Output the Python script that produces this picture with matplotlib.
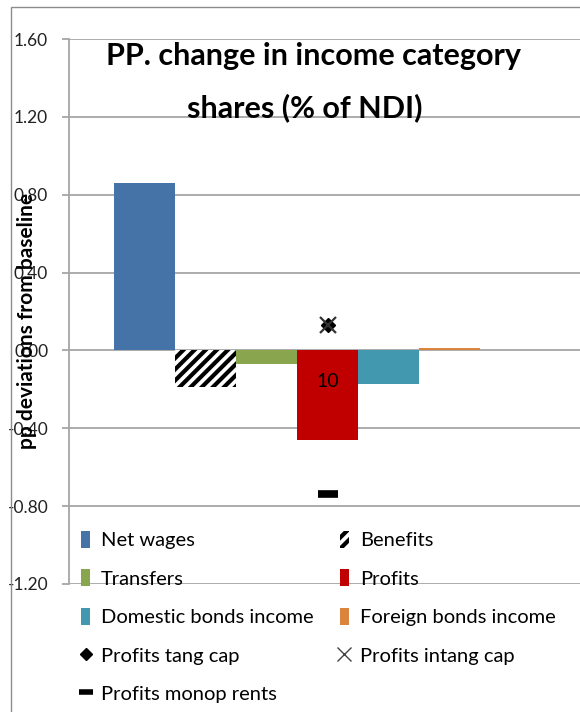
import numpy as np
import matplotlib
matplotlib.use("Agg")
from matplotlib import pyplot as plt
from matplotlib.lines import Line2D
from matplotlib.patches import Patch, Rectangle

plt.rcParams['font.family'] = ['Lato', 'DejaVu Sans']
plt.rcParams['hatch.linewidth'] = 3.0

# bar series (one cluster)
series = ['Net wages', 'Benefits', 'Transfers', 'Profits',
          'Domestic bonds income', 'Foreign bonds income']
values = [0.862, -0.19, -0.068, -0.46, -0.17, 0.012]
colors = ['#4572A7', 'white', '#89A54E', '#C00000', '#4198AF', '#DB843D']

# point series, drawn over the Profits bar
point_names = ['Profits tang cap', 'Profits intang cap', 'Profits monop rents']
point_values = [0.13, 0.13, -0.74]

profits_label = '10'
label_y = -0.16

yticks = [-1.2, -0.8, -0.4, 0.0, 0.4, 0.8, 1.2, 1.6]

W, H = 580, 712
fig = plt.figure(figsize=(W / 100, H / 100), dpi=100)
ax = fig.add_axes([69 / W, (H - 584) / H, 1 - 69 / W, 545 / H])

x = np.arange(len(series))
bars = ax.bar(x, values, width=1.0, color=colors, edgecolor='none', zorder=2)
bars[1].set_hatch('///')
bars[1].set_edgecolor('black')
bars[1].set_linewidth(0)

px = x[series.index('Profits')]
ax.plot(px, point_values[0], marker='D', color='black', ms=7, ls='none', zorder=4)
ax.plot(px, point_values[1], marker='x', color='#333333', ms=11, mew=1.6, ls='none', zorder=5)
ax.plot(px, point_values[2], marker='_', color='black', ms=14, mew=5.5, ls='none', zorder=4)
ax.text(px, label_y, profits_label, ha='center', va='center', fontsize=14, zorder=6)

ax.set_xlim(-1.238, 7.139)
ax.set_ylim(-1.2, 1.6)
ax.set_yticks(yticks)
ax.set_yticklabels(['%.2f' % v for v in yticks])
ax.set_xticks([])
ax.yaxis.grid(True, color='#a6a6a6', lw=1.3, zorder=0)
ax.set_axisbelow(True)
for s in ['top', 'right', 'bottom']:
    ax.spines[s].set_visible(False)
ax.spines['left'].set_color('#a6a6a6')
ax.spines['left'].set_linewidth(1.3)
ax.tick_params(axis='y', colors='#a6a6a6', length=5, width=1.3,
               labelsize=12.5, labelcolor='#222222', pad=10)
ax.patch.set_alpha(0)

fig.text(27 / W, 1 - 321 / H, 'pp deviations from baseline', rotation=90,
         ha='center', va='center', fontsize=15, fontweight='bold')

fig.text(314 / W, 1 - 65 / H, 'PP. change in income category',
         ha='center', va='baseline', fontsize=22, fontweight='bold')
fig.text(305 / W, 1 - 117 / H, 'shares (% of NDI)',
         ha='center', va='baseline', fontsize=22, fontweight='bold')

# outer chart frame
fig.patches.append(Rectangle((11 / W, -0.1), 1.2, 1.1 - 7 / H,
                             transform=fig.transFigure, fill=False,
                             edgecolor='#8c8c8c', lw=1.0))

handles = [Patch(facecolor=c, edgecolor='none') for c in colors]
handles[1] = Patch(facecolor='white', edgecolor='black', hatch='///', lw=0)
handles += [
    Line2D([], [], marker='D', color='black', ms=6, ls='none'),
    Line2D([], [], marker='x', color='#444444', ms=10, mew=1.0, ls='none'),
    Line2D([], [], marker='_', color='black', ms=10, mew=4, ls='none'),
]
labels = series + point_names
order = [0, 2, 4, 6, 8, 1, 3, 5, 7]
fig.legend([handles[i] for i in order], [labels[i] for i in order],
           loc='upper left', bbox_to_anchor=(81 / W, 1 - 531 / H), ncol=2,
           frameon=False, fontsize=14.5, handlelength=0.45, handleheight=0.9,
           handletextpad=0.55, labelspacing=1.0, columnspacing=1.3,
           borderaxespad=0, borderpad=0)

fig.savefig('out.png', dpi=100)
